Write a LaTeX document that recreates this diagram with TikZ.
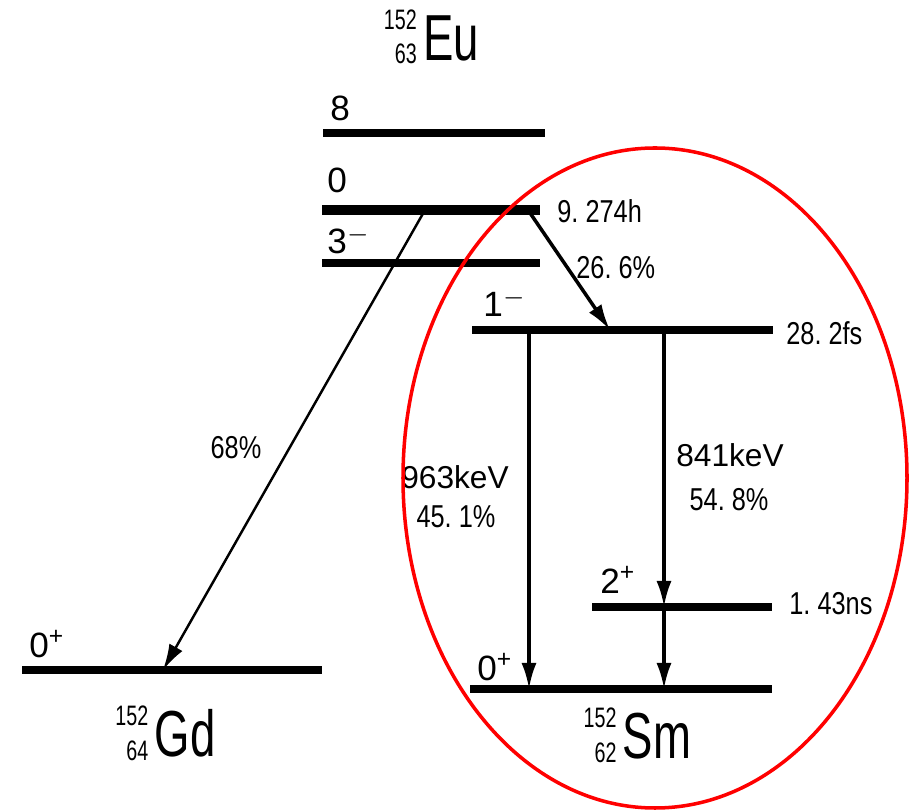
\documentclass[tikz,border=0pt]{standalone}
\usepackage{fontspec}
\setmainfont{Liberation Sans}
\newfontfamily\nucfont{Liberation Sans}[FakeStretch=0.7]
\newfontfamily\labfont{Liberation Sans}[FakeStretch=0.8]
\usetikzlibrary{arrows.meta,positioning}

\tikzset{
  level/.style={line width=2pt},
  gamma/.style={line width=1pt, -{Latex[length=2.6mm,width=1.5mm]}},
  lbl/.style={font=\fontsize{9}{10}\selectfont, inner sep=0pt},
  plbl/.style={font=\labfont\fontsize{9}{10}\selectfont, inner sep=0pt},
  spin/.style={font=\fontsize{10}{12}\selectfont, inner sep=0pt, anchor=west},
  nuc/.style={font=\nucfont\fontsize{18.5}{20}\selectfont, inner sep=0pt},
  iso/.style={font=\nucfont\fontsize{8}{9}\selectfont, inner sep=0pt},
}

\begin{document}
\begin{tikzpicture}[x=0.01cm, y=-0.01cm, thick]
  \useasboundingbox (0,0) rectangle (912,810);

  % Mutterkern
  \node[nuc] (eu) at (451,38) {Eu};
  \node[iso, anchor=north east] (eumass) at ([xshift=-1pt, yshift=1.5pt]eu.north west) {152};
  \node[iso, anchor=south east] (euz) at ([xshift=-1pt, yshift=-1pt]eu.south west) {63};

  % Niveaus Eu
  \coordinate (eu8l) at (323,133); \coordinate (eu8r) at (545,133);
  \coordinate (eu0l) at (322,210); \coordinate (eu0r) at (540,210);
  \coordinate (eu3l) at (322,263); \coordinate (eu3r) at (540,263);
  \draw[level] (eu8l) -- (eu8r);
  \draw[level, line width=2.8pt] (eu0l) -- (eu0r);
  \draw[level] (eu3l) -- (eu3r);
  \node[spin] (s8) at (329,108) {8};
  \node[spin] (s0) at (326,180) {0};
  \node[spin] (s3) at (326,240) {3\textsuperscript{$-$}};
  \node[plbl, anchor=west] (t0) at (556,211) {9.\ 274h};

  % Gd
  \coordinate (gdl) at (22,670); \coordinate (gdr) at (322,670);
  \draw[level] (gdl) -- (gdr);
  \node[spin] (sgd) at (28,644) {0\textsuperscript{+}};
  \node[nuc] (gd) at (185,733) {Gd};
  \node[iso, anchor=north east] (gdmass) at ([xshift=-1pt, yshift=1pt]gd.north west) {152};
  \node[iso, anchor=south east] (gdz) at ([xshift=-1pt, yshift=-1pt]gd.south west) {64};

  % Sm
  \coordinate (sm1l) at (472,330); \coordinate (sm1r) at (773,330);
  \coordinate (sm2l) at (592,607); \coordinate (sm2r) at (772,607);
  \coordinate (sm0l) at (470,689); \coordinate (sm0r) at (772,689);
  \draw[level] (sm1l) -- (sm1r);
  \draw[level] (sm2l) -- (sm2r);
  \draw[level] (sm0l) -- (sm0r);
  \node[spin] (s1) at (482,303) {1\textsuperscript{$-$}};
  \node[spin] (s2) at (599,580) {2\textsuperscript{+}};
  \node[spin] (ssm) at (476,667) {0\textsuperscript{+}};
  \node[plbl, anchor=west] (t1) at (785,333) {28.\ 2fs};
  \node[plbl, anchor=west] (t2) at (788,604) {1.\ 43ns};
  \node[nuc] (sm) at (657,736) {Sm};
  \node[iso, anchor=north east] (smmass) at ([xshift=-1pt, yshift=1.5pt]sm.north west) {152};
  \node[iso, anchor=south east] (smz) at ([xshift=-1pt, yshift=-1pt]sm.south west) {62};

  % Zerfaelle
  \coordinate (ecstart) at (425,210); \coordinate (ecend) at (163,670);
  \draw[gamma, line width=0.7pt] (ecstart) -- (ecend);
  \node[plbl] (p68) at (236,448) {68\%};
  \coordinate (bstart) at (528,210); \coordinate (bend) at (610,330);
  \draw[gamma] (bstart) -- (bend);
  \node[plbl, anchor=west] (p266) at (575,268) {26.\ 6\%};

  % Gammaübergänge
  \coordinate (g963a) at (529,330); \coordinate (g963b) at (529,689);
  \draw[gamma] (g963a) -- (g963b);
  \node[lbl] (e963) at (455,477) {963keV};
  \node[plbl] (p451) at (456,517) {45.\ 1\%};
  \coordinate (g841a) at (664,330); \coordinate (g841b) at (664,607);
  \draw[gamma] (g841a) -- (g841b);
  \node[lbl] (e841) at (730,455) {841keV};
  \node[plbl] (p548) at (729,500) {54.\ 8\%};
  \coordinate (g122b) at (664,689);
  \draw[gamma] (g841b) -- (g122b);

  % Markierung
  \draw[red, line width=1pt] (655,478) ellipse [x radius=252, y radius=330];
\end{tikzpicture}
\end{document}
